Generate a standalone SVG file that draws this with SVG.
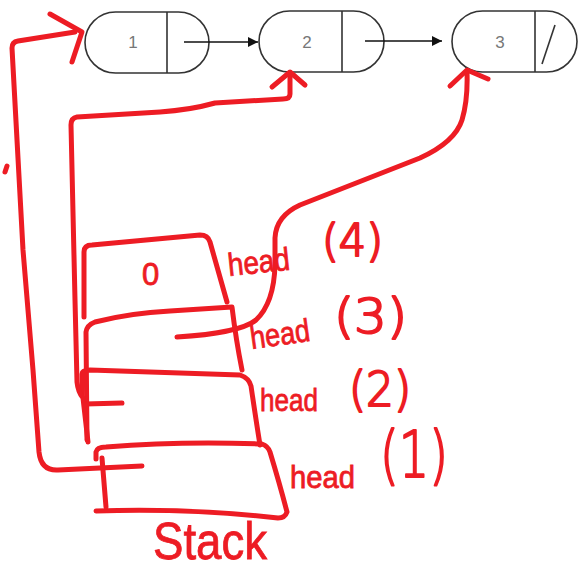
<svg xmlns="http://www.w3.org/2000/svg" width="578" height="570" viewBox="0 0 578 570">
  <defs>
    <marker id="arrow" viewBox="0 0 10 10" refX="10" refY="5" markerWidth="10" markerHeight="10" markerUnits="userSpaceOnUse" orient="auto">
      <path d="M0,0 L10,5 L0,10 Z" fill="#111"/>
    </marker>
    <style>
      .pill { fill: #fff; stroke: #333; stroke-width: 1.6; }
      .div { stroke: #333; stroke-width: 1.6; }
      .val { font-family: "Liberation Sans", Arial, sans-serif; font-size: 17px; fill: #777; text-anchor: middle; }
      .link { stroke: #111; stroke-width: 1.5; fill: none; }
      .ink { fill: none; stroke: #ED1C24; stroke-width: 5; stroke-linecap: round; stroke-linejoin: round; }
      .hand { font-family: "Liberation Sans", Arial, sans-serif; fill: #ED1C24; stroke: #ED1C24; stroke-width: 0.8; }
      .big { font-family: "DejaVu Sans", sans-serif; font-weight: 200; fill: #ED1C24; stroke: #ED1C24; stroke-width: 2.2; stroke-linejoin: round; }
    </style>
  </defs>
  <rect width="578" height="570" fill="#fff"/>

  <!-- linked list nodes -->
  <g id="node-1">
    <rect class="pill" x="85" y="12" width="124" height="61" rx="30.5"/>
    <line class="div" x1="167" y1="12" x2="167" y2="73"/>
    <text class="val" x="133" y="48">1</text>
  </g>
  <g id="node-2">
    <rect class="pill" x="259" y="11" width="125" height="61" rx="30.5"/>
    <line class="div" x1="342" y1="11" x2="342" y2="72"/>
    <text class="val" x="307" y="48">2</text>
  </g>
  <g id="node-3">
    <rect class="pill" x="452" y="11" width="125" height="61" rx="30.5"/>
    <line class="div" x1="535" y1="11" x2="535" y2="72"/>
    <text class="val" x="500" y="48">3</text>
    <line class="div" x1="542" y1="64" x2="555" y2="25"/>
  </g>

  <!-- next pointers -->
  <g id="connectors">
    <line class="link" x1="184" y1="42" x2="258" y2="42" marker-end="url(#arrow)"/>
    <line class="link" x1="365" y1="41" x2="442" y2="41" marker-end="url(#arrow)"/>
  </g>

  <!-- stack frames, hand drawn -->
  <g id="stack">
    <!-- frame 4 (top) -->
    <path class="ink" d="M84,317 L84,252 Q84,245 92,245 L200,235 Q208,235 210,242 Q218,270 227,302"/>
    <!-- frame 3 -->
    <path class="ink" d="M87,440 L86,332 Q87,325 95,322 Q130,313 170,311 L232,307 Q236,340 242,370"/>
    <!-- frame 2 -->
    <path class="ink" d="M82,395 L82,374 Q82,370 90,370 L240,375 Q249,378 251,386 Q256,420 260,445"/>
    <path class="ink" d="M85,404 L122,403"/>
    <!-- frame 1 (bottom) -->
    <path class="ink" d="M96,459 L96,452 Q97,447 106,447 Q180,441 262,444 Q268,446 270,452 Q280,485 287,512 Q285,518 278,518 Q190,508 96,511"/>
    <path class="ink" d="M102,458 L106,507"/>
    <text class="hand" x="142" y="285" font-size="31">0</text>
    <text class="hand" x="153" y="559" font-size="52" textLength="114" lengthAdjust="spacingAndGlyphs">Stack</text>
  </g>

  <!-- head labels -->
  <g id="labels">
    <text class="hand" x="228" y="273" font-size="32" textLength="62" lengthAdjust="spacingAndGlyphs" transform="rotate(-6 258 265)">head</text>
    <text class="big" x="322" y="256" font-size="44" textLength="61" lengthAdjust="spacingAndGlyphs">(4)</text>
    <text class="hand" x="250" y="345" font-size="32" textLength="60" lengthAdjust="spacingAndGlyphs" transform="rotate(-8 280 335)">head</text>
    <text class="big" x="334" y="333" font-size="48" textLength="73" lengthAdjust="spacingAndGlyphs">(3)</text>
    <text class="hand" x="260" y="411" font-size="32" textLength="58" lengthAdjust="spacingAndGlyphs">head</text>
    <text class="big" x="349" y="406" font-size="48" textLength="62" lengthAdjust="spacingAndGlyphs">(2)</text>
    <text class="hand" x="290" y="488" font-size="32" textLength="65" lengthAdjust="spacingAndGlyphs">head</text>
    <text class="big" x="380" y="477" font-size="64" textLength="68" lengthAdjust="spacingAndGlyphs">(1)</text>
  </g>

  <!-- head references into the list -->
  <g id="references">
    <!-- head(1) to node 1 -->
    <path class="ink" d="M142,466 L58,470 Q41,471 39,452 L33,370 L23,250 L12,48 Q12,42 18,41 L75,32"/>
    <path class="ink" d="M50,14 L82,32 L72,62"/>
    <path class="ink" d="M7,166 L5,172" stroke-width="2"/>
    <!-- head(2) to node 2 -->
    <path class="ink" d="M290,73 L290,94 Q290,99 283,99 L215,103 Q190,110 160,112 L77,117 Q71,118 71,125 L75,300 L77,382 Q78,392 83,398 L88,442"/>
    <path class="ink" d="M272,87 L290,72 L305,85"/>
    <!-- head(3) to node 3 -->
    <path class="ink" d="M177,337 Q240,333 256,320 Q274,303 275,265 L275,238 Q276,216 300,205 L420,158 Q455,142 462,120 Q468,100 467,72"/>
    <path class="ink" d="M450,86 L467,70 L488,79"/>
  </g>
</svg>
